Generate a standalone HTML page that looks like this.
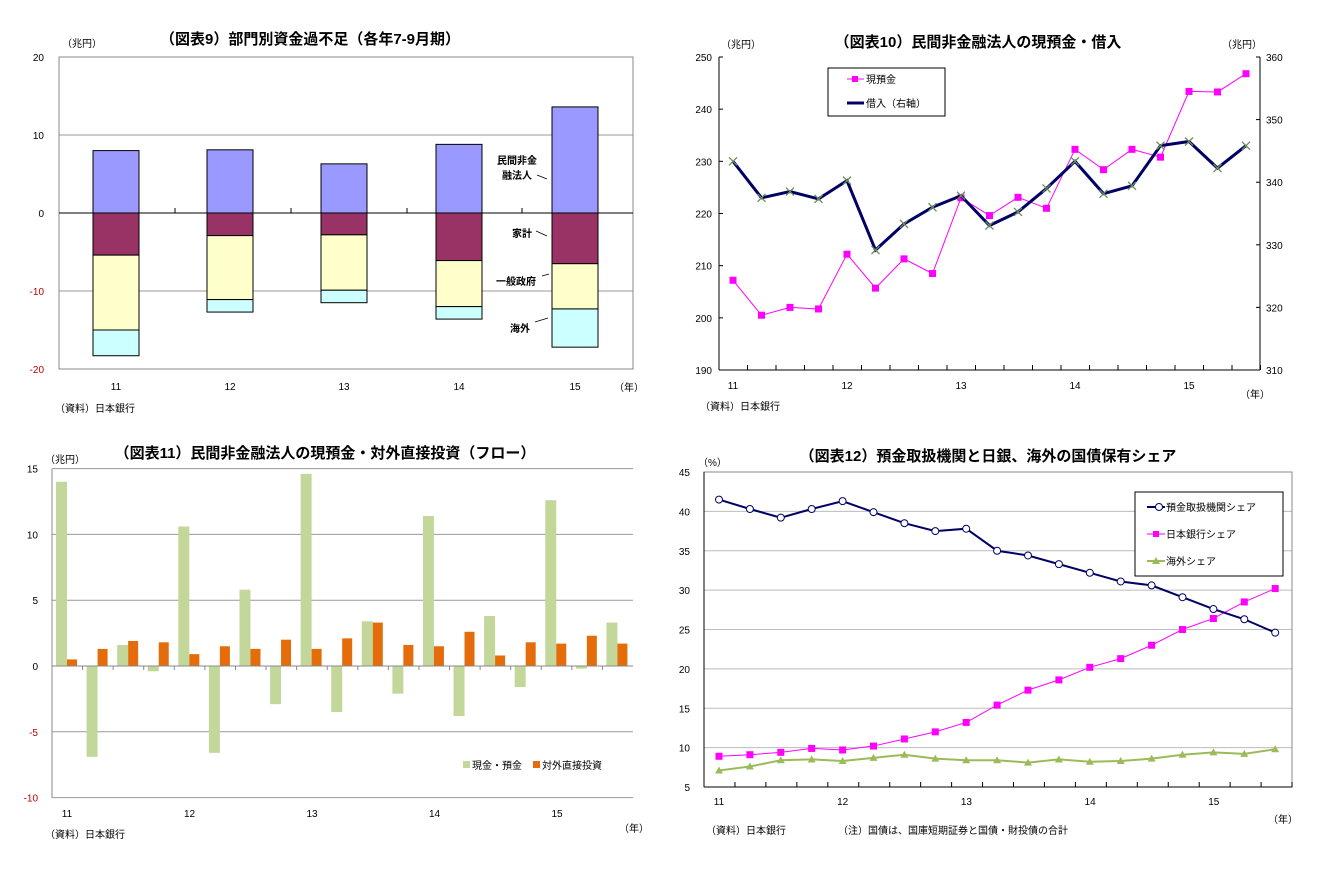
<!DOCTYPE html>
<html><head><meta charset="utf-8">
<style>
html,body{margin:0;padding:0;background:#fff;}
svg{display:block;font-family:"Liberation Sans","Noto Sans CJK JP",sans-serif;}
</style></head>
<body>
<svg id="s" width="1326" height="871" viewBox="0 0 1326 871" xmlns="http://www.w3.org/2000/svg">
<rect width="1326" height="871" fill="#fff"/>
<text x="310" y="44" font-size="15" font-weight="bold" text-anchor="middle">（図表9）部門別資金過不足（各年7-9月期）</text>
<text x="62" y="47" font-size="10">（兆円）</text>
<text x="614" y="391" font-size="10">（年）</text>
<text x="55" y="412" font-size="10">（資料）日本銀行</text>
<g id="c1"></g>
<text x="517" y="164" font-size="10" font-weight="bold" text-anchor="middle">民間非金</text>
<text x="517" y="179" font-size="10" font-weight="bold" text-anchor="middle">融法人</text>
<line x1="537" y1="175" x2="547" y2="179" stroke="#000" stroke-width="0.8"/>
<text x="522" y="237" font-size="10" font-weight="bold" text-anchor="middle">家計</text>
<line x1="536" y1="231" x2="547" y2="236" stroke="#000" stroke-width="0.8"/>
<text x="516" y="285" font-size="10" font-weight="bold" text-anchor="middle">一般政府</text>
<line x1="542" y1="276" x2="549" y2="274" stroke="#000" stroke-width="0.8"/>
<text x="520" y="332" font-size="10" font-weight="bold" text-anchor="middle">海外</text>
<line x1="535" y1="322" x2="548" y2="318" stroke="#000" stroke-width="0.8"/>
<text x="978" y="47" font-size="15" font-weight="bold" text-anchor="middle">（図表10）民間非金融法人の現預金・借入</text>
<text x="721" y="48" font-size="10">（兆円）</text>
<text x="1222" y="48" font-size="10">（兆円）</text>
<text x="1240" y="398" font-size="10">（年）</text>
<text x="700" y="410" font-size="10">（資料）日本銀行</text>
<g id="c2"></g>
<text x="325" y="458" font-size="15" font-weight="bold" text-anchor="middle">（図表11）民間非金融法人の現預金・対外直接投資（フロー）</text>
<text x="45" y="463" font-size="10">（兆円）</text>
<text x="619" y="832" font-size="10">（年）</text>
<text x="45" y="838" font-size="10">（資料）日本銀行</text>
<g id="c3"></g>
<text x="988" y="461" font-size="15" font-weight="bold" text-anchor="middle">（図表12）預金取扱機関と日銀、海外の国債保有シェア</text>
<text x="698" y="466" font-size="10">（%）</text>
<text x="1268" y="823" font-size="10">（年）</text>
<text x="706" y="834" font-size="10">（資料）日本銀行</text>
<text x="838" y="834" font-size="10">（注）国債は、国庫短期証券と国債・財投債の合計</text>
<g id="c4"></g>
</svg>
<script>
var NS="http://www.w3.org/2000/svg";
function el(g,t,a,txt){var e=document.createElementNS(NS,t);for(var k in a)e.setAttribute(k,a[k]);if(txt!==undefined)e.textContent=txt;document.getElementById(g).appendChild(e);return e;}
(function(){
 var L=59,R=633,T=57,B=369;function y(v){return 213-v*7.8;}
 [10,-10].forEach(function(v){el("c1","line",{x1:L,x2:R,y1:y(v),y2:y(v),stroke:"#999","stroke-width":1});});
 [20,10,0,-10,-20].forEach(function(v){el("c1","text",{x:44,y:y(v)+4,"font-size":10,"text-anchor":"end",fill:v<0?"#c00000":"#000"},String(v));});
 var xs=[93,207,321,436,552],lab=["11","12","13","14","15"];
 var d=[[8,-5.4,-15,-18.3],[8.1,-2.9,-11.1,-12.7],[6.3,-2.8,-9.9,-11.5],[8.8,-6.1,-12,-13.6],[13.6,-6.5,-12.3,-17.2]];
 for(var i=0;i<5;i++){var x=xs[i],w=46,v=d[i];
  el("c1","rect",{x:x,y:y(v[0]),width:w,height:y(0)-y(v[0]),fill:"#9999ff",stroke:"#000","stroke-width":1});
  el("c1","rect",{x:x,y:y(0),width:w,height:y(v[1])-y(0),fill:"#993366",stroke:"#000","stroke-width":1});
  el("c1","rect",{x:x,y:y(v[1]),width:w,height:y(v[2])-y(v[1]),fill:"#ffffcc",stroke:"#000","stroke-width":1});
  el("c1","rect",{x:x,y:y(v[2]),width:w,height:y(v[3])-y(v[2]),fill:"#ccffff",stroke:"#000","stroke-width":1});
  el("c1","text",{x:x+23,y:390,"font-size":10,"text-anchor":"middle"},lab[i]);}
 el("c1","rect",{x:L,y:T,width:R-L,height:B-T,fill:"none",stroke:"#888","stroke-width":1});
 el("c1","line",{x1:L,x2:R,y1:y(0),y2:y(0),stroke:"#000","stroke-width":1});
 [175,291,407,522].forEach(function(x){el("c1","line",{x1:x,x2:x,y1:y(0),y2:y(0)-5,stroke:"#000"});});
})();
(function(){
 var L=719,R=1260,T=57,B=370;function y(v){return B-(v-190)*(B-T)/60;}function yr(v){return B-(v-310)*(B-T)/50;}function x(i){return 733+i*28.5;}
 el("c2","line",{x1:L,x2:L,y1:T,y2:B,stroke:"#000"});el("c2","line",{x1:R,x2:R,y1:T,y2:B,stroke:"#000"});
 el("c2","line",{x1:L,x2:R,y1:B,y2:B,stroke:"#000"});
 for(var v=190;v<=250;v+=10){el("c2","line",{x1:L,x2:L+4,y1:y(v),y2:y(v),stroke:"#000"});
  el("c2","text",{x:L-7,y:y(v)+4,"font-size":10,"text-anchor":"end"},String(v));}
 for(var v=310;v<=360;v+=10){el("c2","line",{x1:R,x2:R-4,y1:yr(v),y2:yr(v),stroke:"#000"});
  el("c2","text",{x:R+6,y:yr(v)+4,"font-size":10},String(v));}
 for(var k=0;k<20;k++){var xx=L+k*28.5;el("c2","line",{x1:xx,x2:xx,y1:B,y2:B-5,stroke:"#000"});}
 ["11","12","13","14","15"].forEach(function(s,i){el("c2","text",{x:733+i*114,y:389,"font-size":10,"text-anchor":"middle"},s);});
 var c=[207.2,200.5,202,201.7,212.2,205.7,211.3,208.5,223,219.6,223.1,221,232.3,228.4,232.3,230.8,243.4,243.3,246.8];
 var b=[230,223,224.2,222.8,226.3,213,218,221.2,223.4,217.7,220.3,224.8,230,223.8,225.3,233,233.8,228.7,233];
 el("c2","polyline",{points:c.map(function(v,i){return x(i)+","+y(v);}).join(" "),fill:"none",stroke:"#ff00ff","stroke-width":1});
 c.forEach(function(v,i){el("c2","rect",{x:x(i)-3.5,y:y(v)-3.5,width:7,height:7,fill:"#ff00ff"});});
 el("c2","polyline",{points:b.map(function(v,i){return x(i)+","+y(v);}).join(" "),fill:"none",stroke:"#000066","stroke-width":3});
 b.forEach(function(v,i){var X=x(i),Y=y(v);el("c2","path",{d:"M"+(X-4)+" "+(Y-4)+"L"+(X+4)+" "+(Y+4)+"M"+(X-4)+" "+(Y+4)+"L"+(X+4)+" "+(Y-4),stroke:"#6b8e5a","stroke-width":1.3});});
 el("c2","rect",{x:828,y:68,width:117,height:48,fill:"#fff",stroke:"#000","stroke-width":1});
 el("c2","line",{x1:847,x2:864,y1:79,y2:79,stroke:"#ff00ff"});el("c2","rect",{x:852,y:76,width:6,height:6,fill:"#ff00ff"});
 el("c2","text",{x:866,y:83,"font-size":10},"現預金");
 el("c2","line",{x1:847,x2:864,y1:103,y2:103,stroke:"#000066","stroke-width":3});
 el("c2","text",{x:866,y:107,"font-size":10},"借入（右軸）");
})();
(function(){
 var L=52,R=633,T=469,B=798;function y(v){return 666-v*13.16;}
 [15,10,5,-5,-10].forEach(function(v){el("c3","line",{x1:L,x2:R,y1:y(v),y2:y(v),stroke:"#999"});});
 [15,10,5,0,-5,-10].forEach(function(v){el("c3","text",{x:38,y:y(v)+4,"font-size":10,"text-anchor":"end",fill:v<0?"#c00000":"#000"},String(v));});
 el("c3","line",{x1:L,x2:L,y1:T,y2:B,stroke:"#888"});
 var g=[14,-6.9,1.6,-0.4,10.6,-6.6,5.8,-2.9,14.6,-3.5,3.4,-2.1,11.4,-3.8,3.8,-1.6,12.6,-0.2,3.3];
 var o=[0.5,1.3,1.9,1.8,0.9,1.5,1.3,2.0,1.3,2.1,3.3,1.6,1.5,2.6,0.8,1.8,1.7,2.3,1.7];
 var gw=(R-L)/19;
 for(var i=0;i<19;i++){var x0=L+i*gw;
  var yg=y(Math.max(g[i],0)),hg=Math.abs(g[i])*13.16;el("c3","rect",{x:x0+4,y:yg,width:11,height:hg,fill:"#c4d79b"});
  el("c3","rect",{x:x0+15,y:y(o[i]),width:10,height:o[i]*13.16,fill:"#e46c0a"});
  el("c3","line",{x1:x0,x2:x0,y1:y(0),y2:y(0)+4,stroke:"#888"});}
 el("c3","line",{x1:L,x2:R,y1:y(0),y2:y(0),stroke:"#888"});
 ["11","12","13","14","15"].forEach(function(s,i){el("c3","text",{x:67+i*122.5,y:817,"font-size":10,"text-anchor":"middle"},s);});
 el("c3","rect",{x:463,y:761,width:7,height:7,fill:"#c4d79b"});el("c3","text",{x:472,y:769,"font-size":10},"現金・預金");
 el("c3","rect",{x:533,y:761,width:7,height:7,fill:"#e46c0a"});el("c3","text",{x:542,y:769,"font-size":10},"対外直接投資");
})();
(function(){
 var L=704,R=1292,T=472,B=787;function y(v){return B-(v-5)*(B-T)/40;}function x(i){return 719+i*30.9;}
 for(var v=10;v<=40;v+=5)el("c4","line",{x1:L,x2:R,y1:y(v),y2:y(v),stroke:"#bbb"});
 el("c4","rect",{x:L,y:T,width:R-L,height:B-T,fill:"none",stroke:"#888"});
 el("c4","line",{x1:L,x2:R,y1:B,y2:B,stroke:"#000"});el("c4","line",{x1:L,x2:L,y1:T,y2:B,stroke:"#000"});
 for(var v=5;v<=45;v+=5)el("c4","text",{x:690,y:y(v)+4,"font-size":10,"text-anchor":"end"},String(v));
 for(var k=0;k<20;k++){var xx=L+k*30.95;el("c4","line",{x1:xx,x2:xx,y1:B,y2:B-5,stroke:"#000"});}
 ["11","12","13","14","15"].forEach(function(s,i){el("c4","text",{x:719+i*123.7,y:805,"font-size":10,"text-anchor":"middle"},s);});
 var d=[41.5,40.3,39.2,40.3,41.3,39.9,38.5,37.5,37.8,35,34.4,33.3,32.2,31.1,30.6,29.1,27.6,26.3,24.6];
 var b=[8.9,9.1,9.4,9.9,9.7,10.2,11.1,12,13.2,15.4,17.3,18.6,20.2,21.3,23,25,26.4,28.5,30.2];
 var f=[7.1,7.6,8.4,8.5,8.3,8.7,9.1,8.6,8.4,8.4,8.1,8.5,8.2,8.3,8.6,9.1,9.4,9.2,9.8];
 function pts(a){return a.map(function(v,i){return x(i)+","+y(v);}).join(" ");}
 el("c4","polyline",{points:pts(f),fill:"none",stroke:"#9bbb59","stroke-width":2});
 f.forEach(function(v,i){el("c4","path",{d:"M"+x(i)+" "+(y(v)-4)+"L"+(x(i)+4)+" "+(y(v)+3)+"L"+(x(i)-4)+" "+(y(v)+3)+"Z",fill:"#9bbb59"});});
 el("c4","polyline",{points:pts(b),fill:"none",stroke:"#ff00ff","stroke-width":1});
 b.forEach(function(v,i){el("c4","rect",{x:x(i)-3.5,y:y(v)-3.5,width:7,height:7,fill:"#ff00ff"});});
 el("c4","polyline",{points:pts(d),fill:"none",stroke:"#000066","stroke-width":2});
 d.forEach(function(v,i){el("c4","circle",{cx:x(i),cy:y(v),r:3.5,fill:"#fff",stroke:"#000066","stroke-width":1});});
 el("c4","rect",{x:1135,y:492,width:148,height:84,fill:"#fff",stroke:"#000"});
 el("c4","line",{x1:1147,x2:1165,y1:507,y2:507,stroke:"#000066","stroke-width":2});el("c4","circle",{cx:1159,cy:507,r:3.5,fill:"#fff",stroke:"#000066"});
 el("c4","text",{x:1166,y:511,"font-size":10},"預金取扱機関シェア");
 el("c4","line",{x1:1147,x2:1165,y1:534,y2:534,stroke:"#ff00ff"});el("c4","rect",{x:1153,y:531,width:6,height:6,fill:"#ff00ff"});
 el("c4","text",{x:1166,y:538,"font-size":10},"日本銀行シェア");
 el("c4","line",{x1:1147,x2:1165,y1:561,y2:561,stroke:"#9bbb59","stroke-width":2});el("c4","path",{d:"M1156 557L1160 564L1152 564Z",fill:"#9bbb59"});
 el("c4","text",{x:1166,y:565,"font-size":10},"海外シェア");
})();
</script>
</body></html>
